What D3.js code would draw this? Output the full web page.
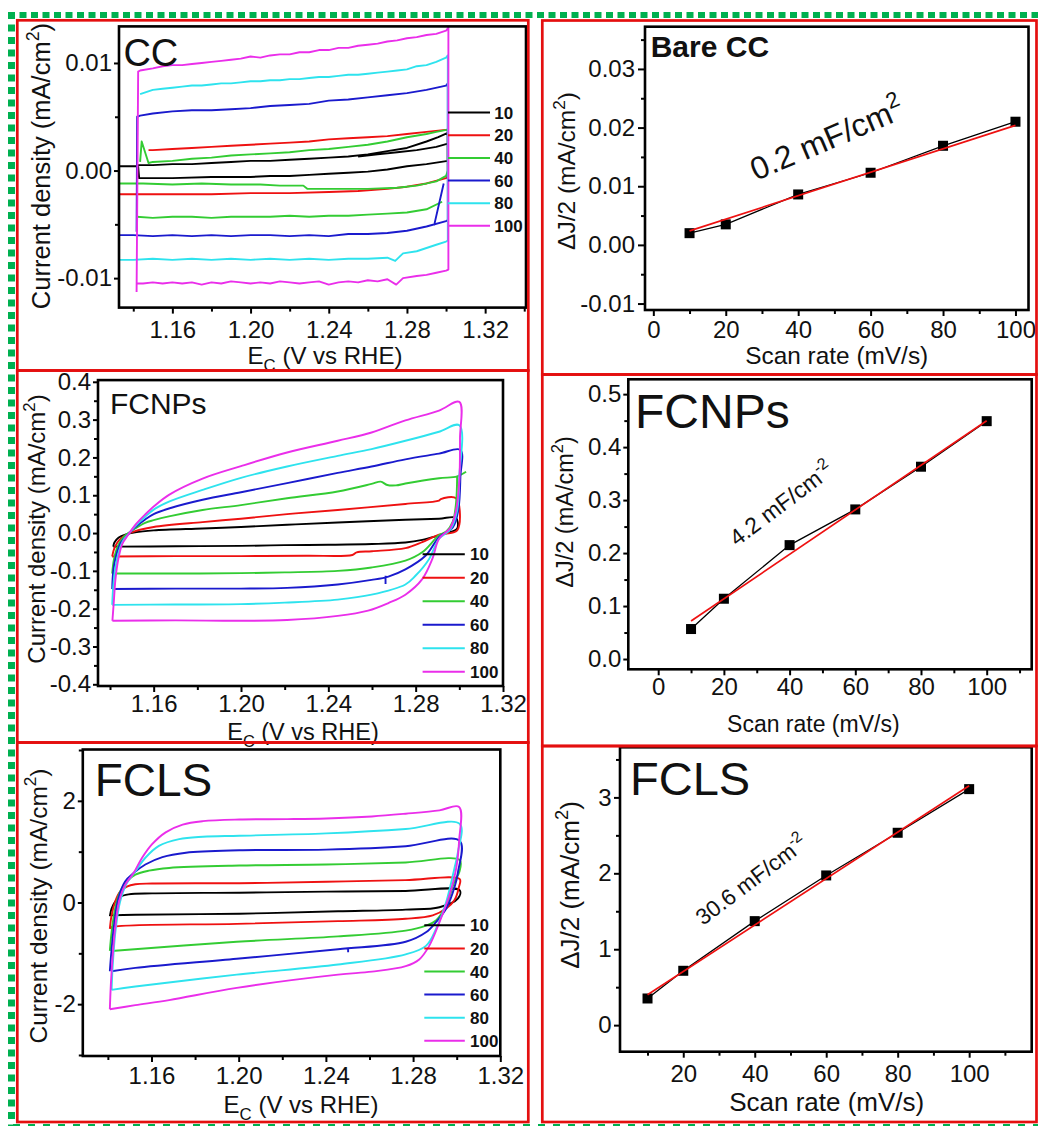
<!DOCTYPE html>
<html><head><meta charset="utf-8">
<script src="https://cdn.jsdelivr.net/npm/d3@7"></script>
<style>
html,body{margin:0;padding:0;background:#fff;}
svg{display:block;font-family:"Liberation Sans",Arial,Helvetica,sans-serif;}
</style></head><body>
<svg id="fig" width="1038" height="1126"></svg>
<script>
// ---------- data ----------
const scanRates = [10, 20, 40, 60, 80, 100];          // mV/s
const legendLabels = ["10", "20", "40", "60", "80", "100"];

// half of the anodic/cathodic current difference (mA/cm2) vs scan rate
const bareCcHalfDJ = [0.0020, 0.0035, 0.0086, 0.0123, 0.0169, 0.0210];
const fcnpsHalfDJ  = [0.0566, 0.1138, 0.2150, 0.2824, 0.3630, 0.4490];
const fclsHalfDJ   = [0.351, 0.716, 1.370, 1.972, 2.534, 3.109];
// double-layer capacitance from the linear fits (mF/cm2)
const capacitances = [0.2, 4.2, 30.6];

// tick values
const cvXMajor = [1.16, 1.20, 1.24, 1.28, 1.32];
const cvXMinor = [1.14, 1.18, 1.22, 1.26, 1.30, 1.34];
const ccYMajor = [-0.01, 0.00, 0.01];
const ccYMinor = [-0.005, 0.005];
const fcnpsYMajor = [-0.4, -0.3, -0.2, -0.1, 0.0, 0.1, 0.2, 0.3, 0.4];
const fcnpsYMinor = [-0.35, -0.25, -0.15, -0.05, 0.05, 0.15, 0.25, 0.35];
const fclsYMajor = [-2, 0, 2];
const fclsYMinor = [-3, -1, 1, 3];
const rateXMajor = [0, 20, 40, 60, 80, 100];
const rateXMinor = [10, 30, 50, 70, 90, 110];
const fclsRateXMajor = [20, 40, 60, 80, 100];
const bareYMajor = [-0.01, 0.00, 0.01, 0.02, 0.03];
const bareYMinor = [-0.005, 0.005, 0.015, 0.025, 0.035];
const fcnpsRateYMajor = [0.0, 0.1, 0.2, 0.3, 0.4, 0.5];
const fcnpsRateYMinor = [0.05, 0.15, 0.25, 0.35, 0.45];
const fclsRateYMajor = [0, 1, 2, 3];
const fclsRateYMinor = [0.5, 1.5, 2.5, 3.5];

// cyclic voltammograms [E (V vs RHE), j (mA/cm2)], null breaks a trace
const cc10 = [[1.1330,0.0004],[1.1417,0.0004],[1.1425,0.0005],[1.150,0.0005],[1.160,0.0006],[1.170,0.0006],[1.180,0.0007],[1.190,0.0008],[1.200,0.0009],[1.210,0.0009],[1.220,0.0010],[1.230,0.0011],[1.240,0.0012],[1.250,0.0013],[1.260,0.0015],[1.270,0.0018],[1.280,0.0021],[1.290,0.0027],[1.296,0.0031],[1.3009,0.0035],[1.3009,0.0009],[1.290,0.0006],[1.280,0.0004],[1.270,0.0001],[1.260,-0.0001],[1.250,-0.0002],[1.240,-0.0003],[1.230,-0.0004],[1.220,-0.0005],[1.210,-0.0005],[1.200,-0.0006],[1.180,-0.0006],[1.160,-0.0007],[1.1430,-0.0007],[1.1425,0.0004],
  null,[1.255,0.0013],[1.265,0.0015],[1.275,0.0017],[1.285,0.0019],[1.295,0.0022],[1.3009,0.0025]];
const cc20 = [[1.1330,-0.0022],[1.145,-0.0022],[1.160,-0.0022],[1.180,-0.0022],[1.200,-0.0021],[1.220,-0.0021],[1.240,-0.0020],[1.255,-0.0019],[1.270,-0.0017],[1.280,-0.0015],[1.290,-0.0012],[1.300,-0.0007],[1.3009,-0.0005],[1.3009,0.0038],[1.290,0.0036],[1.280,0.0034],[1.270,0.0032],[1.260,0.0031],[1.250,0.0030],[1.240,0.0029],[1.230,0.0027],[1.220,0.0026],[1.210,0.0025],[1.200,0.0024],[1.190,0.0023],[1.180,0.0022],[1.170,0.0021],[1.160,0.0020],[1.150,0.0019],[1.1478,0.0019]];
const cc40 = [[1.1330,-0.0012],[1.145,-0.0012],[1.160,-0.0013],[1.175,-0.0012],[1.190,-0.0013],[1.205,-0.0013],[1.215,-0.0014],[1.227,-0.0014],[1.229,-0.0017],[1.245,-0.0017],[1.260,-0.0017],[1.275,-0.0016],[1.285,-0.0014],[1.295,-0.0010],[1.300,-0.0005],[1.3009,0.0000],[1.3009,0.0038],[1.295,0.0036],[1.290,0.0034],[1.280,0.0031],[1.270,0.0027],[1.260,0.0024],[1.250,0.0022],[1.240,0.0020],[1.230,0.0019],[1.220,0.0017],[1.210,0.0016],[1.200,0.0015],[1.190,0.0014],[1.180,0.0012],[1.170,0.0011],[1.160,0.0009],[1.150,0.0008],[1.1478,0.0007],[1.1443,0.0027],[1.1435,0.0008],
  null,[1.1417,-0.0043],[1.150,-0.0044],[1.160,-0.0043],[1.170,-0.0043],[1.180,-0.0044],[1.190,-0.0043],[1.200,-0.0043],[1.210,-0.0043],[1.220,-0.0042],[1.230,-0.0043],[1.240,-0.0042],[1.250,-0.0042],[1.260,-0.0041],[1.270,-0.0040],[1.280,-0.0039],[1.290,-0.0036],[1.298,-0.0029]];
const cc60 = [[1.1330,-0.0060],[1.140,-0.0060],[1.150,-0.0061],[1.160,-0.0060],[1.170,-0.0061],[1.180,-0.0060],[1.190,-0.0061],[1.200,-0.0060],[1.210,-0.0060],[1.220,-0.0061],[1.230,-0.0060],[1.240,-0.0061],[1.250,-0.0059],[1.260,-0.0059],[1.270,-0.0058],[1.280,-0.0056],[1.290,-0.0052],[1.300,-0.0047],[1.3009,-0.0046],[1.3009,0.0081],[1.300,0.0079],[1.290,0.0075],[1.280,0.0072],[1.270,0.0070],[1.260,0.0068],[1.250,0.0066],[1.240,0.0065],[1.230,0.0062],[1.220,0.0061],[1.210,0.0060],[1.200,0.0058],[1.190,0.0057],[1.180,0.0056],[1.170,0.0056],[1.160,0.0055],[1.150,0.0053],[1.1435,0.0051],[1.1420,0.0050],[1.1417,-0.0057],
  null,[1.2939,-0.0051],[1.2988,-0.0012]];
const cc80 = [[1.1330,-0.0083],[1.140,-0.0083],[1.150,-0.0082],[1.160,-0.0083],[1.170,-0.0082],[1.180,-0.0083],[1.190,-0.0082],[1.200,-0.0083],[1.210,-0.0082],[1.220,-0.0083],[1.230,-0.0082],[1.240,-0.0083],[1.250,-0.0082],[1.260,-0.0082],[1.270,-0.0081],[1.274,-0.0084],[1.278,-0.0077],[1.285,-0.0075],[1.290,-0.0072],[1.295,-0.0069],[1.300,-0.0066],[1.3009,-0.0065],[1.3009,0.0107],[1.300,0.0105],[1.295,0.0101],[1.290,0.0098],[1.285,0.0097],[1.280,0.0094],[1.275,0.0093],[1.270,0.0092],[1.265,0.0091],[1.260,0.0090],[1.255,0.0089],[1.250,0.0089],[1.245,0.0088],[1.240,0.0087],[1.235,0.0087],[1.230,0.0086],[1.225,0.0085],[1.220,0.0085],[1.215,0.0084],[1.210,0.0084],[1.205,0.0083],[1.200,0.0083],[1.195,0.0082],[1.190,0.0081],[1.185,0.0081],[1.180,0.0080],[1.175,0.0079],[1.170,0.0079],[1.165,0.0078],[1.160,0.0077],[1.155,0.0076],[1.150,0.0075],[1.1435,0.0071]];
const cc100 = [[1.1417,-0.0105],[1.145,-0.0105],[1.150,-0.0104],[1.155,-0.0105],[1.160,-0.0104],[1.165,-0.0105],[1.170,-0.0104],[1.175,-0.0106],[1.180,-0.0104],[1.185,-0.0105],[1.190,-0.0103],[1.195,-0.0104],[1.200,-0.0105],[1.205,-0.0104],[1.210,-0.0105],[1.215,-0.0103],[1.220,-0.0104],[1.225,-0.0105],[1.230,-0.0104],[1.235,-0.0103],[1.240,-0.0106],[1.245,-0.0104],[1.250,-0.0103],[1.255,-0.0104],[1.260,-0.0102],[1.265,-0.0103],[1.270,-0.0101],[1.2745,-0.0106],[1.278,-0.0100],[1.285,-0.0098],[1.290,-0.0097],[1.295,-0.0095],[1.300,-0.0093],[1.3012,-0.0092],[1.3012,0.0133],[1.300,0.0130],[1.295,0.0127],[1.290,0.0126],[1.285,0.0124],[1.280,0.0123],[1.275,0.0121],[1.270,0.0120],[1.265,0.0118],[1.260,0.0117],[1.255,0.0116],[1.250,0.0114],[1.245,0.0114],[1.240,0.0112],[1.235,0.0112],[1.230,0.0110],[1.225,0.0110],[1.220,0.0108],[1.215,0.0108],[1.210,0.0107],[1.205,0.0105],[1.200,0.0106],[1.195,0.0104],[1.190,0.0103],[1.185,0.0102],[1.180,0.0101],[1.175,0.0100],[1.170,0.0099],[1.165,0.0098],[1.160,0.0098],[1.155,0.0097],[1.150,0.0095],[1.1435,0.0093],[1.1425,0.0092],[1.1417,-0.0113]];

const fn10 = [[1.1415,-0.036],[1.1420,-0.025],[1.1440,-0.012],[1.1470,-0.004],[1.1515,0.002],[1.160,0.007],[1.1824,0.012],[1.200,0.016],[1.2211,0.022],[1.2443,0.028],[1.2753,0.035],[1.2907,0.038],[1.2985,0.040],[1.2990,0.012],[1.2950,0.001],[1.2907,-0.006],[1.2830,-0.018],[1.2753,-0.025],[1.2600,-0.029],[1.2400,-0.031],[1.2200,-0.032],[1.2000,-0.034],[1.1700,-0.035],[1.1415,-0.036]];
const fn20 = [[1.1410,-0.062],[1.1420,-0.040],[1.1440,-0.020],[1.1470,-0.006],[1.1515,0.005],[1.160,0.016],[1.1824,0.029],[1.200,0.038],[1.2211,0.050],[1.2443,0.061],[1.2753,0.077],[1.2907,0.086],[1.2915,0.090],[1.2985,0.092],[1.2990,0.007],[1.2907,-0.004],[1.2830,-0.024],[1.2753,-0.040],[1.2600,-0.048],[1.2530,-0.051],[1.2510,-0.058],[1.2300,-0.060],[1.2000,-0.061],[1.1700,-0.061],[1.1410,-0.062]];
const fn40 = [[1.1410,-0.107],[1.1418,-0.070],[1.1435,-0.035],[1.1460,-0.012],[1.1484,0.000],[1.1515,0.012],[1.1561,0.027],[1.160,0.034],[1.167,0.044],[1.1824,0.061],[1.200,0.074],[1.2211,0.092],[1.2443,0.110],[1.2598,0.130],[1.2640,0.136],[1.2670,0.127],[1.2710,0.126],[1.2753,0.131],[1.2907,0.145],[1.2990,0.150],[1.3031,0.162],
  null,[1.2990,0.150],[1.2985,0.080],[1.2970,0.030],[1.2940,0.004],[1.2907,-0.006],[1.2830,-0.051],[1.2753,-0.073],[1.2598,-0.091],[1.2443,-0.100],[1.2200,-0.104],[1.2000,-0.106],[1.1700,-0.107],[1.1410,-0.107]];
const fn60 = [[1.1410,-0.148],[1.1415,-0.100],[1.1428,-0.060],[1.1450,-0.025],[1.1484,-0.003],[1.1515,0.015],[1.1561,0.036],[1.160,0.050],[1.167,0.065],[1.1824,0.088],[1.200,0.108],[1.2211,0.132],[1.2443,0.159],[1.2598,0.176],[1.2753,0.195],[1.2907,0.210],[1.3005,0.220],[1.3005,0.150],[1.2995,0.060],[1.2970,0.015],[1.2907,-0.011],[1.2845,-0.060],[1.2753,-0.096],[1.2675,-0.115],[1.2598,-0.124],[1.2443,-0.136],[1.2211,-0.145],[1.2000,-0.147],[1.1700,-0.147],[1.1410,-0.148],
  null,[1.2662,-0.113],[1.2662,-0.135]];
const fn80 = [[1.1410,-0.190],[1.1415,-0.140],[1.1425,-0.090],[1.1440,-0.050],[1.1460,-0.020],[1.1484,-0.003],[1.1515,0.018],[1.1561,0.043],[1.160,0.062],[1.167,0.083],[1.1824,0.114],[1.200,0.146],[1.2211,0.176],[1.2443,0.204],[1.2598,0.222],[1.2753,0.244],[1.2907,0.268],[1.3000,0.285],[1.3000,0.150],[1.2990,0.060],[1.2960,0.010],[1.2907,-0.015],[1.2861,-0.069],[1.2799,-0.113],[1.2753,-0.136],[1.2598,-0.163],[1.2443,-0.176],[1.2200,-0.184],[1.2000,-0.188],[1.1700,-0.189],[1.1410,-0.190]];
const fn100 = [[1.1411,-0.232],[1.1417,-0.185],[1.1425,-0.122],[1.1438,-0.069],[1.1456,-0.029],[1.1484,-0.004],[1.1515,0.021],[1.1561,0.049],[1.160,0.070],[1.167,0.101],[1.1824,0.144],[1.200,0.177],[1.2211,0.213],[1.2443,0.244],[1.2598,0.266],[1.2753,0.298],[1.2907,0.324],[1.3000,0.347],[1.3003,0.250],[1.3000,0.140],[1.2985,0.060],[1.2960,0.015],[1.2907,-0.015],[1.2876,-0.069],[1.2830,-0.122],[1.2753,-0.163],[1.2675,-0.185],[1.2582,-0.205],[1.2443,-0.219],[1.2211,-0.230],[1.2000,-0.232],[1.1700,-0.231],[1.1411,-0.232]];

const fl10 = [[1.1409,-0.267],[1.1417,-0.120],[1.1433,0.013],[1.1456,0.113],[1.1495,0.160],[1.1603,0.180],[1.2003,0.193],[1.2401,0.213],[1.2766,0.227],[1.3014,0.240],[1.3006,0.080],[1.2921,-0.093],[1.2766,-0.140],[1.2456,-0.173],[1.2003,-0.220],[1.1526,-0.240],[1.1409,-0.253]];
const fl20 = [[1.1409,-0.520],[1.1417,-0.253],[1.1433,0.013],[1.1456,0.213],[1.1487,0.313],[1.1526,0.360],[1.1603,0.373],[1.2003,0.380],[1.2401,0.407],[1.2766,0.440],[1.3014,0.460],[1.3010,0.300],[1.2990,0.047],[1.2952,-0.120],[1.2890,-0.253],[1.2766,-0.320],[1.2456,-0.367],[1.1991,-0.420],[1.1417,-0.487],[1.1409,-0.520]];
const fl40 = [[1.1409,-0.953],[1.1417,-0.587],[1.1433,-0.120],[1.1456,0.213],[1.1487,0.413],[1.1526,0.547],[1.1588,0.627],[1.1681,0.680],[1.2003,0.727],[1.2401,0.747],[1.2766,0.787],[1.3014,0.833],[1.3012,0.600],[1.2990,0.413],[1.2952,-0.053],[1.2905,-0.353],[1.2859,-0.453],[1.2766,-0.553],[1.2456,-0.667],[1.1991,-0.773],[1.1417,-0.953]];
const fl60 = [[1.1409,-1.353],[1.1417,-0.920],[1.1430,-0.387],[1.1448,0.080],[1.1479,0.413],[1.1518,0.580],[1.1572,0.747],[1.1650,0.893],[1.1758,0.980],[1.2003,1.027],[1.2401,1.040],[1.2766,1.107],[1.3014,1.213],[1.3006,0.600],[1.2990,0.300],[1.2952,-0.120],[1.2905,-0.387],[1.2859,-0.587],[1.2766,-0.773],[1.2456,-0.920],[1.1991,-1.107],[1.1526,-1.287],[1.1417,-1.353],
  null,[1.2502,-0.890],[1.2502,-0.980]];
const fl80 = [[1.1417,-1.720],[1.1423,-1.187],[1.1436,-0.520],[1.1456,0.013],[1.1487,0.380],[1.1526,0.613],[1.1572,0.880],[1.1634,1.113],[1.1727,1.247],[1.1836,1.293],[1.2003,1.313],[1.2401,1.360],[1.2766,1.447],[1.3014,1.547],[1.3006,1.000],[1.2990,0.680],[1.2952,0.013],[1.2905,-0.520],[1.2859,-0.853],[1.2766,-1.020],[1.2456,-1.220],[1.1991,-1.420],[1.1526,-1.653],[1.1417,-1.720]];
const fl100 = [[1.1409,-2.100],[1.1414,-1.587],[1.1422,-1.053],[1.1433,-0.520],[1.1451,0.013],[1.1479,0.347],[1.1518,0.580],[1.1557,0.880],[1.1603,1.147],[1.1665,1.380],[1.1743,1.533],[1.1836,1.600],[1.2003,1.633],[1.2223,1.640],[1.2401,1.653],[1.2611,1.693],[1.2766,1.747],[1.2921,1.813],[1.3011,1.880],[1.3011,1.213],[1.2998,0.680],[1.2967,0.147],[1.2921,-0.387],[1.2874,-0.853],[1.2828,-1.120],[1.2766,-1.253],[1.2611,-1.360],[1.2456,-1.420],[1.1991,-1.680],[1.1681,-1.920],[1.1526,-2.020],[1.1409,-2.100]];

const ccCurves = [cc10, cc20, cc40, cc60, cc80, cc100];
const fcnpsCurves = [fn10, fn20, fn40, fn60, fn80, fn100];
const fclsCurves = [fl10, fl20, fl40, fl60, fl80, fl100];

// ---------- styles ----------
const traceColors = ["#000000", "#ee1111", "#33cc33", "#1a1acd", "#2ee3ee", "#ea2eea"];
const borderRed = "#e40f0f";
const dashGreen = "#00b050";
const tickFont = 24;

const svg = d3.select("#fig");
svg.append("rect").attr("width", 1038).attr("height", 1126).attr("fill", "#fff");

function richText(sel, parts, fs) {
  let shift = 0;
  parts.forEach(([s, kind]) => {
    const t = sel.append("tspan").text(s);
    const target = kind === "sup" ? -0.42 * fs : kind === "sub" ? 0.3 * fs : 0;
    t.attr("dy", target - shift);
    shift = target;
    if (kind) t.attr("font-size", fs * 0.7);
  });
  return sel;
}

function label(parts, x, y, fs, opts = {}) {
  const t = svg.append("text")
    .attr("transform", `translate(${x},${y}) rotate(${opts.rotate || 0})`)
    .attr("text-anchor", opts.anchor || "start")
    .attr("font-size", fs)
    .attr("font-weight", opts.bold ? "bold" : "normal")
    .attr("fill", "#111");
  return richText(t, parts, fs);
}

function setupPanel(p) {
  const [x0, y0, x1, y1] = p.frame;
  const x = d3.scaleLinear().domain(p.xDomain).range([x0, x1]);
  const y = d3.scaleLinear().domain(p.yDomain).range([y1, y0]);
  const g = svg.append("g");
  const inX = v => v >= p.xDomain[0] - 1e-9 && v <= p.xDomain[1] + 1e-9;
  const inY = v => v >= p.yDomain[0] - 1e-9 && v <= p.yDomain[1] + 1e-9;
  const ax = g.append("g");
  ax.append("g").attr("transform", `translate(0,${y1})`)
    .call(d3.axisBottom(x).tickValues(p.xMinor.filter(inX)).tickSize(4).tickFormat(""));
  ax.append("g").attr("transform", `translate(0,${y1})`)
    .call(d3.axisBottom(x).tickValues(p.xMajor.filter(inX)).tickSize(6).tickPadding(p.xPad).tickFormat(p.xFmt));
  ax.append("g").attr("transform", `translate(${x0},0)`)
    .call(d3.axisLeft(y).tickValues(p.yMinor.filter(inY)).tickSize(4).tickFormat(""));
  ax.append("g").attr("transform", `translate(${x0},0)`)
    .call(d3.axisLeft(y).tickValues(p.yMajor.filter(inY)).tickSize(p.yTick).tickPadding(p.yPad).tickFormat(p.yFmt));
  ax.selectAll(".domain").remove();
  ax.selectAll(".tick line").attr("stroke", "#000").attr("stroke-width", 2);
  ax.selectAll(".tick text").attr("font-size", tickFont).attr("fill", "#111")
    .attr("font-family", '"Liberation Sans", Arial, sans-serif');
  const clipId = "clip" + Math.round(x0) + "_" + Math.round(y0);
  svg.append("clipPath").attr("id", clipId)
    .append("rect").attr("x", x0).attr("y", y0).attr("width", x1 - x0).attr("height", y1 - y0);
  const plot = g.append("g").attr("clip-path", `url(#${clipId})`);
  return { x, y, g, plot, frame: p.frame };
}

function drawFrame(P) {
  const [x0, y0, x1, y1] = P.frame;
  P.g.append("rect").attr("x", x0).attr("y", y0).attr("width", x1 - x0).attr("height", y1 - y0)
    .attr("fill", "none").attr("stroke", "#000").attr("stroke-width", 2.6);
}

function drawCV(P, curves, curve) {
  const line = d3.line().defined(d => d !== null)
    .x(d => P.x(d[0])).y(d => P.y(d[1])).curve(curve);
  curves.forEach((c, i) => {
    P.plot.append("path").attr("d", line(c)).attr("fill", "none")
      .attr("stroke", traceColors[i]).attr("stroke-width", 1.9).attr("stroke-linejoin", "round");
  });
}

function drawLegend(lx0, lx1, tx, ty0, dy) {
  legendLabels.forEach((lab, i) => {
    const yy = ty0 + i * dy;
    svg.append("line").attr("x1", lx0).attr("x2", lx1).attr("y1", yy).attr("y2", yy)
      .attr("stroke", traceColors[i]).attr("stroke-width", 2);
    svg.append("text").attr("x", tx).attr("y", yy).attr("dy", "0.36em")
      .attr("font-size", 17).attr("font-weight", "bold").attr("fill", "#111").text(lab);
  });
}

function drawRate(P, values, cap) {
  const slope = cap / 1000;
  const intercept = d3.mean(values) - slope * d3.mean(scanRates);
  const pts = scanRates.map((r, i) => [r, values[i]]);
  const line = d3.line().x(d => P.x(d[0])).y(d => P.y(d[1]));
  P.plot.append("path").attr("d", line(pts)).attr("fill", "none")
    .attr("stroke", "#000").attr("stroke-width", 1.3);
  P.plot.selectAll(null).data(pts).enter().append("rect")
    .attr("x", d => P.x(d[0]) - 5).attr("y", d => P.y(d[1]) - 5)
    .attr("width", 10).attr("height", 10).attr("fill", "#000");
  const r0 = scanRates[0], r1 = scanRates[scanRates.length - 1];
  P.plot.append("path")
    .attr("d", line([[r0, intercept + slope * r0], [r1, intercept + slope * r1]]))
    .attr("stroke", "#ee1111").attr("stroke-width", 1.7).attr("fill", "none");
}

const fmt2 = d => d.toFixed(2), fmt1 = d => d.toFixed(1), fmtInt = d => String(d);

// ---------- CV panels (left column) ----------
const pCC = setupPanel({ frame: [119, 26.4, 526, 307.6], xDomain: [1.1327, 1.3409], yDomain: [-0.01274, 0.0134],
  xMajor: cvXMajor, xMinor: cvXMinor, yMajor: ccYMajor, yMinor: ccYMinor,
  xFmt: fmt2, yFmt: fmt2, xPad: 7.3, yTick: 5, yPad: 2 });
drawCV(pCC, ccCurves, d3.curveLinear);
drawFrame(pCC);

const pFN = setupPanel({ frame: [98, 380.1, 503, 686], xDomain: [1.1345, 1.32], yDomain: [-0.4045, 0.4045],
  xMajor: cvXMajor, xMinor: cvXMinor, yMajor: fcnpsYMajor, yMinor: fcnpsYMinor,
  xFmt: fmt2, yFmt: fmt1, xPad: 3, yTick: 5, yPad: 2 });
drawCV(pFN, fcnpsCurves, d3.curveCatmullRom.alpha(0.5));
drawFrame(pFN);

const pFL = setupPanel({ frame: [82.8, 749.5, 500.3, 1056], xDomain: [1.1285, 1.32], yDomain: [-3.02, 3.01],
  xMajor: cvXMajor, xMinor: cvXMinor, yMajor: fclsYMajor, yMinor: fclsYMinor,
  xFmt: fmt2, yFmt: fmtInt, xPad: 5, yTick: 5, yPad: 2 });
drawCV(pFL, fclsCurves, d3.curveCatmullRom.alpha(0.5));
drawFrame(pFL);

// ---------- scan-rate panels (right column) ----------
const pB = setupPanel({ frame: [645, 26.7, 1028.5, 310], xDomain: [-2.3, 103.6], yDomain: [-0.0111, 0.0372],
  xMajor: rateXMajor, xMinor: rateXMinor, yMajor: bareYMajor, yMinor: bareYMinor,
  xFmt: fmtInt, yFmt: fmt2, xPad: 5.3, yTick: 7, yPad: 3 });
drawRate(pB, bareCcHalfDJ, capacitances[0]);
drawFrame(pB);

const pR2 = setupPanel({ frame: [628.3, 379.3, 1031.7, 669.3], xDomain: [-9.1, 113.7], yDomain: [-0.0194, 0.528],
  xMajor: rateXMajor, xMinor: rateXMinor, yMajor: fcnpsRateYMajor, yMinor: fcnpsRateYMinor,
  xFmt: fmtInt, yFmt: fmt1, xPad: 2.7, yTick: 5, yPad: 2 });
drawRate(pR2, fcnpsHalfDJ, capacitances[1]);
drawFrame(pR2);

const pR3 = setupPanel({ frame: [620, 747.3, 1031.7, 1051.7], xDomain: [2.3, 117.5], yDomain: [-0.35, 3.66],
  xMajor: fclsRateXMajor, xMinor: rateXMinor, yMajor: fclsRateYMajor, yMinor: fclsRateYMinor,
  xFmt: fmtInt, yFmt: fmtInt, xPad: 7, yTick: 6, yPad: 2.5 });
drawRate(pR3, fclsHalfDJ, capacitances[2]);
drawFrame(pR3);

// ---------- legends ----------
drawLegend(448, 490, 494.3, 112.6, 22.65);
drawLegend(422.6, 464.8, 470, 554.2, 23.5);
drawLegend(424.3, 464.8, 470, 925.3, 23.1);

// ---------- titles and annotations ----------
const yCurrent = [["Current density (mA/cm"], ["2", "sup"], [")"]];
const yHalfDJ = [["\u0394J/2 (mA/cm"], ["2", "sup"], [")"]];
const xPotential = [["E"], ["C", "sub"], [" (V vs RHE)"]];
const xRate = [["Scan rate (mV/s)"]];

label(yCurrent, 49.5, 166, 25.5, { rotate: -90, anchor: "middle" });
label(yCurrent, 45, 529, 24, { rotate: -90, anchor: "middle" });
label(yCurrent, 46.5, 906, 24.5, { rotate: -90, anchor: "middle" });
label(xPotential, 325, 364, 24, { anchor: "middle" });
label(xPotential, 303, 739.5, 23.5, { anchor: "middle" });
label(xPotential, 301, 1113, 24, { anchor: "middle" });

label(yHalfDJ, 575, 171, 24.5, { rotate: -90, anchor: "middle" });
label(yHalfDJ, 573, 512, 23.5, { rotate: -90, anchor: "middle" });
label(yHalfDJ, 578.5, 885, 26, { rotate: -90, anchor: "middle" });
label(xRate, 836.7, 364, 24.4, { anchor: "middle" });
label(xRate, 813.3, 732, 23, { anchor: "middle" });
label(xRate, 826.7, 1111, 26, { anchor: "middle" });

label([["CC"]], 123.4, 65.9, 38);
label([["Bare CC"]], 650.7, 56.7, 30, { bold: true });
label([["FCNPs"]], 109.9, 414, 30);
label([["FCNPs"]], 635, 428.3, 48);
label([["FCLS"]], 94.7, 795.8, 46);
label([["FCLS"]], 630, 795, 47);

label([[`${capacitances[0]} mF/cm`], ["2", "sup"]], 756, 181, 32, { rotate: -23 });
label([[`${capacitances[1]} mF/cm`], ["-2", "sup"]], 737, 547, 23, { rotate: -37 });
label([[`${capacitances[2]} mF/cm`], ["-2", "sup"]], 703, 926, 22.5, { rotate: -37 });

// ---------- panel borders ----------
const boxes = [
  [17.3, 20.3, 528.3, 370.5], [17.3, 370.5, 528.3, 742.5], [17.3, 742.5, 528.3, 1122],
  [542.3, 20.5, 1036.5, 374.5], [542.3, 374.5, 1036.5, 746], [542.3, 746, 1036.5, 1122]
];
boxes.forEach(([a, b, c, d]) => {
  svg.append("rect").attr("x", a).attr("y", b).attr("width", c - a).attr("height", d - b)
    .attr("fill", "none").attr("stroke", borderRed).attr("stroke-width", 2.7);
});
svg.append("line").attr("x1", 8).attr("x2", 1038).attr("y1", 15).attr("y2", 15)
  .attr("stroke", dashGreen).attr("stroke-width", 6).attr("stroke-dasharray", "7 4.5");
svg.append("line").attr("x1", 11.5).attr("x2", 11.5).attr("y1", 12).attr("y2", 1126)
  .attr("stroke", dashGreen).attr("stroke-width", 7).attr("stroke-dasharray", "7 5.5");
svg.append("line").attr("x1", 13).attr("x2", 1038).attr("y1", 1125.3).attr("y2", 1125.3)
  .attr("stroke", dashGreen).attr("stroke-width", 2.5).attr("stroke-dasharray", "7 8");
</script></body></html>
